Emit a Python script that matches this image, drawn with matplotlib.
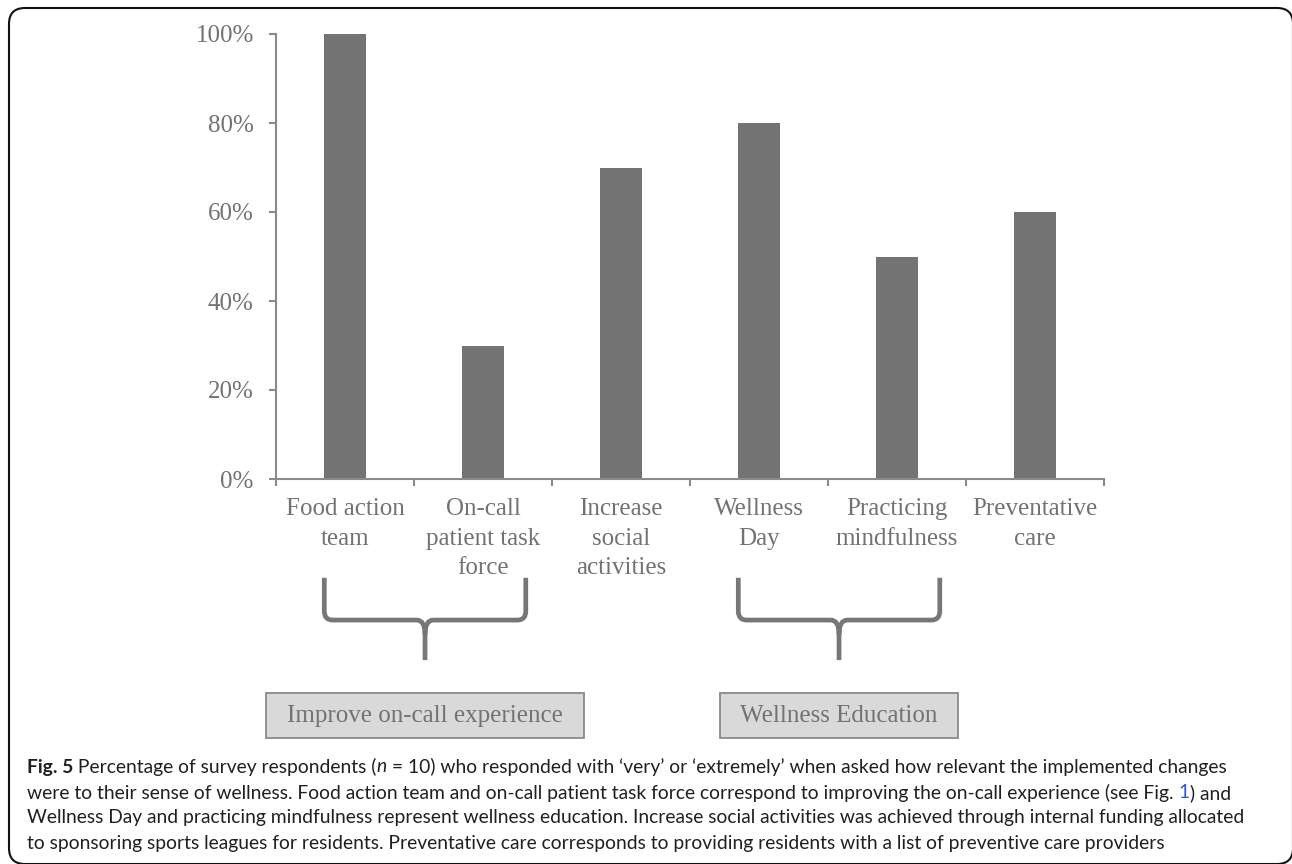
import numpy as np
import matplotlib.pyplot as plt
from matplotlib.path import Path
from matplotlib.patches import PathPatch, Rectangle, FancyBboxPatch
from matplotlib.transforms import blended_transform_factory

# survey results: share answering 'very' or 'extremely'
categories = ["Food action\nteam", "On-call\npatient task\nforce", "Increase\nsocial\nactivities",
              "Wellness\nDay", "Practicing\nmindfulness", "Preventative\ncare"]
percent = [100, 30, 70, 80, 50, 60]
yticks = [0, 20, 40, 60, 80, 100]

# groups of categories shown with braces below the axis
groups = [("Improve on-call experience", 0, 1), ("Wellness Education", 3, 4)]

caption = [
    [("Fig. 5", "bold", "normal", "#231f20"),
     (" Percentage of survey respondents (", "normal", "normal", "#231f20"),
     ("n", "normal", "italic", "#231f20"),
     (" = 10) who responded with \u2018very\u2019 or \u2018extremely\u2019 when asked how relevant the implemented changes",
      "normal", "normal", "#231f20")],
    [("were to their sense of wellness. Food action team and on-call patient task force correspond to improving the on-call experience (see Fig. ",
      "normal", "normal", "#231f20"),
     ("1", "normal", "normal", "#2f55d4"),
     (") and", "normal", "normal", "#231f20")],
    [("Wellness Day and practicing mindfulness represent wellness education. Increase social activities was achieved through internal funding allocated",
      "normal", "normal", "#231f20")],
    [("to sponsoring sports leagues for residents. Preventative care corresponds to providing residents with a list of preventive care providers",
      "normal", "normal", "#231f20")],
]

gray_txt = "#727272"
gray_axis = "#8a8a8a"
bar_col = "#737373"
serif = "Liberation Serif"
fs = 18

fig = plt.figure(figsize=(12.92, 8.64), dpi=100)
ax = fig.add_axes([276 / 1292, 1 - 479 / 864, 828 / 1292, 445 / 864])

x = np.arange(len(categories))
ax.bar(x, percent, width=0.31, color=bar_col, zorder=2)

ax.set_xlim(-0.5, len(categories) - 0.5)
ax.set_ylim(0, 100)
ax.set_yticks(yticks)
ax.set_yticklabels([f"{v}%" for v in yticks], fontfamily=serif, fontsize=fs, color=gray_txt)
ax.set_xticks(np.arange(len(categories) + 1) - 0.5)
ax.set_xticklabels([])
ax.set_xticks(x, minor=True)
ax.set_xticklabels(categories, minor=True, fontfamily=serif, fontsize=fs, color=gray_txt,
                   linespacing=1.42)
ax.tick_params(axis="x", which="minor", length=0, pad=14)
ax.tick_params(axis="both", which="major", direction="out", length=5, width=1.5, color=gray_axis)
ax.tick_params(axis="y", pad=11)
for s in ["top", "right"]:
    ax.spines[s].set_visible(False)
for s in ["left", "bottom"]:
    ax.spines[s].set_color(gray_axis)
    ax.spines[s].set_linewidth(1.5)

# braces and group boxes under the axis (x in data units, y in axes units)
tr = blended_transform_factory(ax.transData, ax.transAxes)
y_top, y_mid, y_bot = -0.222, -0.317, -0.407
rx, ry = 0.06, 0.02
for label, a, b in groups:
    x0, x1 = a - 0.15, b + 0.31
    xc = (x0 + x1) / 2
    verts = [(x0, y_top), (x0, y_mid + ry), (x0, y_mid), (x0 + rx, y_mid),
             (xc - rx, y_mid), (xc, y_mid), (xc, y_mid - 1.6 * ry), (xc, y_bot),
             (xc, y_mid - 1.6 * ry), (xc, y_mid), (xc + rx, y_mid),
             (x1 - rx, y_mid), (x1, y_mid), (x1, y_mid + ry), (x1, y_top)]
    codes = [Path.MOVETO, Path.LINETO, Path.CURVE3, Path.CURVE3,
             Path.LINETO, Path.CURVE3, Path.CURVE3, Path.LINETO,
             Path.MOVETO, Path.CURVE3, Path.CURVE3,
             Path.LINETO, Path.CURVE3, Path.CURVE3, Path.LINETO]
    ax.add_patch(PathPatch(Path(verts, codes), transform=tr, fill=False,
                           edgecolor="#777777", linewidth=3.4, clip_on=False,
                           capstyle="butt", joinstyle="round"))
    bw = 2.3 if a == 0 else 1.73
    ax.add_patch(Rectangle((xc - bw / 2, -0.582), bw, 0.101, transform=tr,
                           facecolor="#d9d9d9", edgecolor="#8a8a8a", linewidth=1.3,
                           clip_on=False))
    ax.text(xc, -0.532, label, transform=tr, ha="center", va="center",
            fontfamily=serif, fontsize=fs, color=gray_txt)

# caption, drawn piece by piece so mixed styles flow on one line
fig.canvas.draw()
renderer = fig.canvas.get_renderer()
line_y = [767, 793, 818, 844]
for parts, yy in zip(caption, line_y):
    xpos = 27
    for txt, weight, style, col in parts:
        t = fig.text(xpos / 1292, 1 - yy / 864, txt, fontfamily="Lato", fontsize=13.9,
                     fontweight=weight, fontstyle=style, color=col, va="center", ha="left")
        bb = t.get_window_extent(renderer)
        xpos = bb.x1

# rounded frame around the whole figure
fig.patches.append(FancyBboxPatch((9, 0), 1284, 856, boxstyle="round,pad=0,rounding_size=16",
                                  transform=None, fill=False, edgecolor="#111111",
                                  linewidth=1.5, figure=fig))

fig.savefig("out.png", dpi=100)
